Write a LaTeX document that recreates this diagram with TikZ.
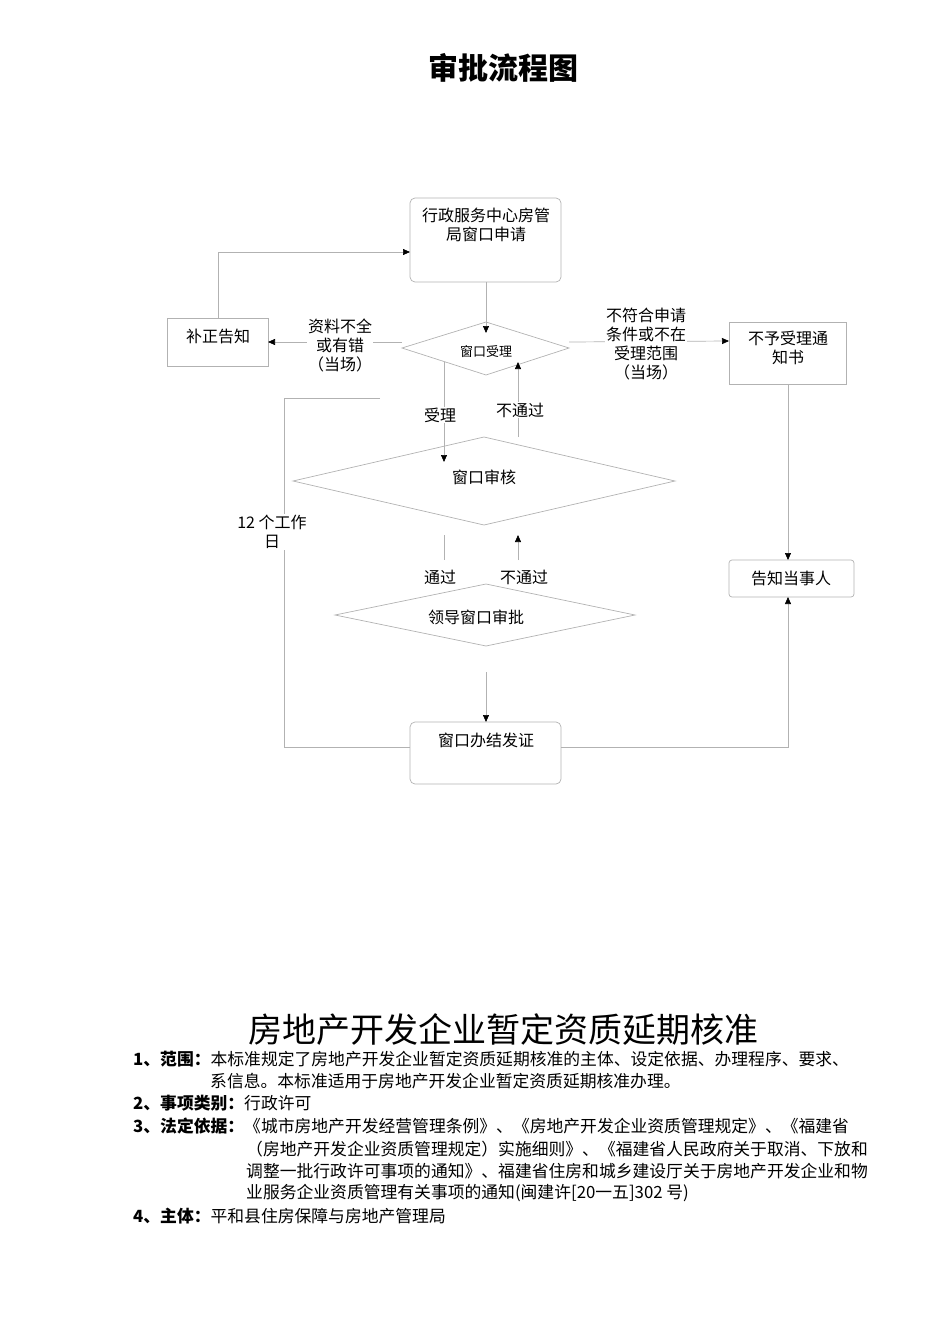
\documentclass[tikz,border=0pt]{standalone}
\usepackage{fontspec}
\setmainfont{Noto Sans CJK SC}
\usetikzlibrary{arrows.meta}
\begin{document}
\begin{tikzpicture}[x=1pt,y=-1pt,
  ln/.style={draw=black!30,line width=0.7pt},
  arr/.style={ln,-{Triangle[length=7pt,width=6pt,color=black]}},
  txt/.style={font=\fontsize{16}{19}\selectfont,align=center,inner sep=1pt},
  lbl/.style={txt,fill=white}]
\useasboundingbox (0,0) rectangle (950,1344);
\node[font=\fontsize{30}{34}\selectfont\bfseries] (title) at (503,68) {审批流程图};
% boxes
\draw[ln,rounded corners=5pt] (410,198) rectangle (561,282);
\node[txt] (b1) at (486,225) {行政服务中心房管\\局窗口申请};
\coordinate (b1b) at (486,282); \coordinate (b1l) at (410,252);
\draw[ln] (167,318) rectangle (268,366);
\node[txt] (bz) at (218,336) {补正告知};
\coordinate (bzt) at (218,318); \coordinate (bzr) at (268,342);
\draw[ln] (729,322) rectangle (846,384);
\node[txt] (bn) at (788,348) {不予受理通\\知书};
\coordinate (bnl) at (729,341); \coordinate (bnb) at (788,384);
\draw[ln,rounded corners=3pt] (729,560) rectangle (854,597);
\node[txt] (gz) at (791,578) {告知当事人};
\coordinate (gzt) at (788,560); \coordinate (gzb) at (788,597);
\draw[ln,rounded corners=5pt] (410,722) rectangle (561,784);
\node[txt] (bj) at (486,740) {窗口办结发证};
\coordinate (bjl) at (410,747); \coordinate (bjr) at (561,747); \coordinate (bjt) at (486,722);
% diamonds
\draw[ln] (402,348) -- (486,322) -- (569,348) -- (486,375) -- cycle;
\node[txt,font=\fontsize{13}{15}\selectfont] (d1) at (486,352) {窗口受理};
\coordinate (d1t) at (486,333); \coordinate (d1l) at (402,342); \coordinate (d1r) at (569,342);
\draw[ln] (293,481) -- (484,437) -- (675,481) -- (484,525) -- cycle;
\node[txt] (d2) at (484,477) {窗口审核};
\draw[ln] (335,615) -- (486,584) -- (635,615) -- (486,646) -- cycle;
\node[txt] (d3) at (476,617) {领导窗口审批};
\coordinate (d3b) at (486,672);
% connectors
\draw[arr] (b1b) -- (d1t);
\draw[arr] (d1l) -- (bzr);
\node[lbl] (l1) at (340,345) {资料不全\\或有错\\（当场）};
\draw[arr] (bzt) |- (b1l);
\draw[arr] (d1r) -- (bnl);
\node[lbl] (l2) at (646,344) {不符合申请\\条件或不在\\受理范围\\（当场）};
\draw[arr] (bnb) -- (gzt);
\coordinate (a1) at (444,362); \coordinate (a2) at (444,462);
\draw[arr] (a1) -- (a2);
\node[lbl] (l3) at (440,415) {受理};
\coordinate (a3) at (518,437); \coordinate (a4) at (518,362);
\draw[arr] (a3) -- (a4);
\node[lbl] (l4) at (520,410) {不通过};
\coordinate (c1) at (380,398);
\draw[ln] (c1) -- (284,398) -- (284,747) -- (bjl);
\node[lbl] (l5) at (272,532) {12 个工作\\日};
\coordinate (a5) at (444,535); \coordinate (a6) at (444,560);
\draw[ln] (a5) -- (a6);
\node[lbl] (l6) at (440,577) {通过};
\coordinate (a7) at (518,560); \coordinate (a8) at (518,535);
\draw[arr] (a7) -- (a8);
\node[lbl] (l7) at (524,577) {不通过};
\draw[arr] (d3b) -- (bjt);
\draw[arr] (bjr) -| (gzb);
% bottom text
\node[font=\fontsize{34}{38}\selectfont] (t2) at (503,1030) {房地产开发企业暂定资质延期核准};
\begin{scope}[every node/.style={anchor=west,inner sep=0pt,font=\fontsize{16.8}{19}\selectfont}]
\node (p1) at (133,1059) {\textbf{1、范围：}本标准规定了房地产开发企业暂定资质延期核准的主体、设定依据、办理程序、要求、};
\node (p1b) at (210,1081) {系信息。本标准适用于房地产开发企业暂定资质延期核准办理。};
\node (p2) at (133,1103) {\textbf{2、事项类别：}行政许可};
\node (p3) at (133,1126) {\textbf{3、法定依据：}《城市房地产开发经营管理条例》、《房地产开发企业资质管理规定》、《福建省};
\node (p3b) at (246,1149) {（房地产开发企业资质管理规定）实施细则》、《福建省人民政府关于取消、下放和};
\node (p3c) at (246,1171) {调整一批行政许可事项的通知》、福建省住房和城乡建设厅关于房地产开发企业和物};
\node (p3d) at (246,1193) {业服务企业资质管理有关事项的通知(闽建许[20一五]302 号)};
\node (p4) at (133,1216) {\textbf{4、主体：}平和县住房保障与房地产管理局};
\end{scope}
\end{tikzpicture}
\end{document}
